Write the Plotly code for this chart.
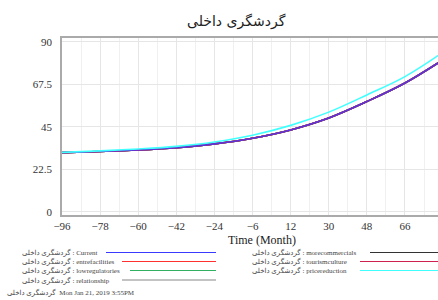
import plotly.graph_objects as go

months = [-96, -78, -60, -42, -24, -6, 12, 30, 48, 66, 84]
current = [31.4, 32.0, 32.8, 34.0, 36.0, 39.0, 43.4, 49.7, 58.4, 68.2, 80.5]
entrefacilities = [31.4, 32.0, 32.8, 34.0, 36.0, 39.0, 43.4, 49.7, 58.4, 68.2, 80.5]
lowregulatories = [31.4, 32.0, 32.8, 34.0, 36.0, 39.0, 43.4, 49.7, 58.4, 68.2, 80.5]
relationship = [31.4, 32.0, 32.8, 34.0, 36.0, 39.0, 43.4, 49.7, 58.4, 68.2, 80.5]
morecommercials = [31.4, 32.0, 32.8, 34.0, 36.0, 39.0, 43.4, 49.7, 58.4, 68.2, 80.5]
tourismculture = [31.4, 32.0, 32.8, 34.0, 36.0, 39.0, 43.4, 49.7, 58.4, 68.2, 80.5]
pricereduction = [31.5, 32.3, 33.3, 34.7, 37.0, 40.6, 45.8, 52.8, 61.9, 71.6, 84.5]

var = "گردشگری داخلی"
x_ticks = [-96, -78, -60, -42, -24, -6, 12, 30, 48, 66, 84]
y_ticks = [0, 22.5, 45, 67.5, 90]

series = [
    ("Current", current, "#3a3aff"),
    ("entrefacilities", entrefacilities, "#ff3030"),
    ("lowregulatories", lowregulatories, "#30b060"),
    ("relationship", relationship, "#888888"),
    ("morecommercials", morecommercials, "#333333"),
    ("tourismculture", tourismculture, "#d02050"),
    ("pricereduction", pricereduction, "#40ffff"),
]

draw_order = ["relationship", "morecommercials", "lowregulatories", "entrefacilities",
              "tourismculture", "Current", "pricereduction"]
fig = go.Figure()
lookup = {n: (v, c) for n, v, c in series}
for n in draw_order:
    v, c = lookup[n]
    fig.add_trace(go.Scatter(x=months, y=v, mode="lines", name=n,
                             line=dict(color=c, width=1.6, shape="spline"),
                             opacity=0.8 if n == "Current" else 1.0,
                             showlegend=False))

serif = "Liberation Serif, DejaVu Serif, DejaVu Sans"
fig.update_layout(
    width=438, height=300,
    margin=dict(l=62, r=0, t=38, b=85),
    paper_bgcolor="white", plot_bgcolor="white",
    showlegend=False,
    font=dict(family=serif, color="#333333"),
    xaxis=dict(range=[-96, 81.6], tickvals=x_ticks, ticks="",
               showgrid=True, gridcolor="#e6e6e6", gridwidth=1,
               minor=dict(dtick=9, tick0=-96, showgrid=True, gridcolor="#f0f0f0"),
               showline=True, linecolor="#aaaaaa", linewidth=1.5, mirror=True,
               zeroline=False, tickfont=dict(size=11, family=serif)),
    yaxis=dict(range=[-1.6, 92], tickvals=y_ticks, ticktext=["0", "22.5", "45", "67.5", "90"],
               ticks="", showgrid=True, gridcolor="#e6e6e6",
               showline=True, linecolor="#aaaaaa", linewidth=1.5, mirror=False,
               zeroline=False, tickfont=dict(size=11, family=serif), ticklabelstandoff=6),
)

anns = []
shapes = []
anns.append(dict(text=var, x=236, y=22, showarrow=False,
                 font=dict(size=14, family="DejaVu Sans", color="#222222")))
anns.append(dict(text="Time (Month)", x=262, y=240, showarrow=False,
                 font=dict(size=12, family=serif, color="#222222")))

left = [("Current", 252.5, 106), ("entrefacilities", 261.5, 122),
        ("lowregulatories", 270.5, 130), ("relationship", 280, 122)]
right = [("morecommercials", 252.5, 370), ("tourismculture", 261.5, 360),
         ("pricereduction", 270.5, 360)]
for name, yy, x0 in left:
    anns.append(dict(text=var + " : " + name, x=20, y=yy, xanchor="left", showarrow=False,
                     font=dict(size=7, family=serif, color="#444444")))
    shapes.append(dict(type="line", x0=x0, x1=216, y0=yy, y1=yy,
                       line=dict(color=lookup[name][1], width=1.2)))
for name, yy, x0 in right:
    anns.append(dict(text=var + " : " + name, x=250, y=yy, xanchor="left", showarrow=False,
                     font=dict(size=7, family=serif, color="#444444")))
    shapes.append(dict(type="line", x0=x0, x1=438, y0=yy, y1=yy,
                       line=dict(color=lookup[name][1], width=1.2)))
anns.append(dict(text=var + "  Mon Jan 21, 2019 3:55PM", x=5, y=292, xanchor="left",
                 showarrow=False, font=dict(size=7, family=serif, color="#444444")))

# convert pixel positions to paper coordinates
W, H = 438, 300
l, r, t, b = 62, 0, 38, 85
pw, ph = W - l - r, H - t - b
for a in anns:
    a["x"] = (a["x"] - l) / pw
    a["y"] = (H - b - a["y"]) / ph
    a["xref"] = "paper"; a["yref"] = "paper"
    a["yanchor"] = "middle"
for s in shapes:
    s["x0"] = (s["x0"] - l) / pw; s["x1"] = (s["x1"] - l) / pw
    s["y0"] = (H - b - s["y0"]) / ph; s["y1"] = (H - b - s["y1"]) / ph
    s["xref"] = "paper"; s["yref"] = "paper"
fig.update_layout(annotations=anns, shapes=shapes)

fig.write_html("out.html", config={"displayModeBar": False},
               post_script="document.body.style.margin='0';document.body.style.overflow='hidden';")
